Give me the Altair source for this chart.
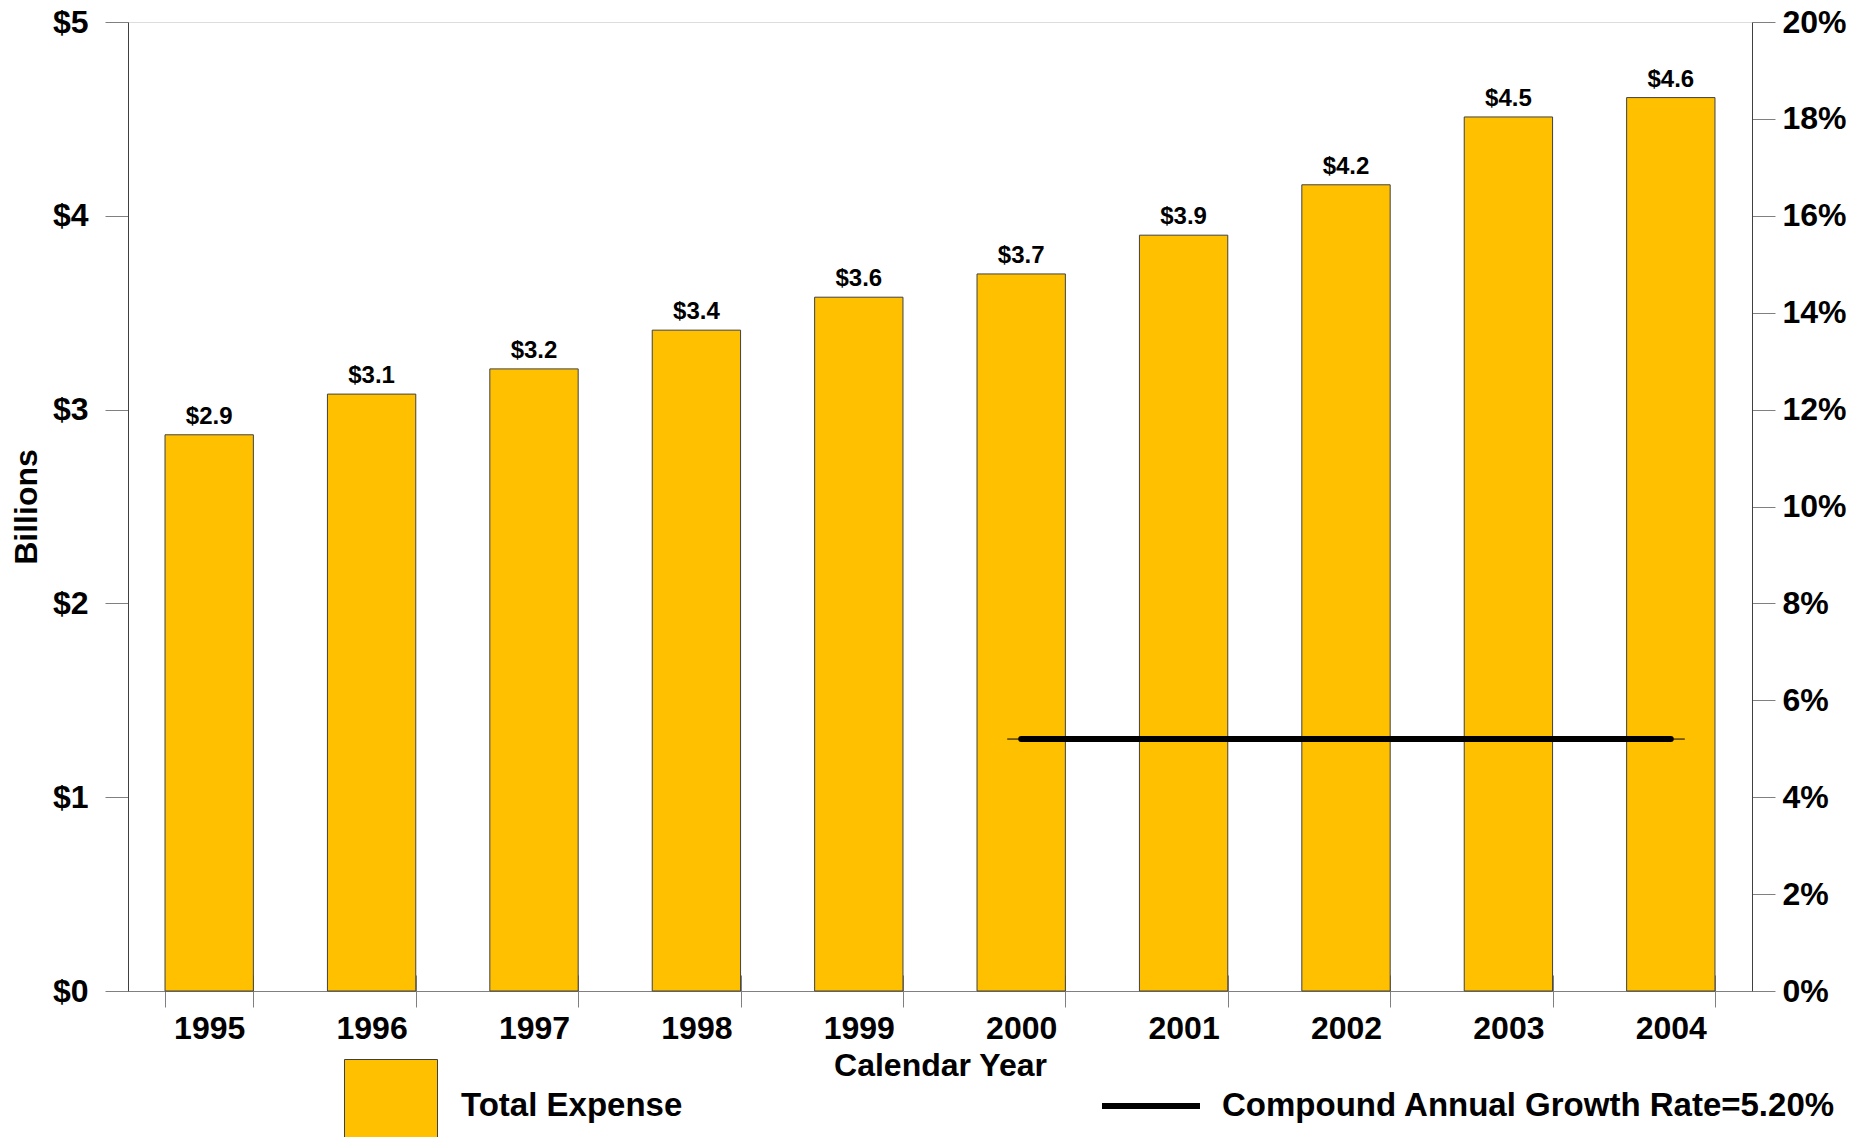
import altair as alt
import pandas as pd

# ---------------- data ----------------
years = ["1995", "1996", "1997", "1998", "1999", "2000", "2001", "2002", "2003", "2004"]
expense = [2.87, 3.08, 3.21, 3.41, 3.58, 3.70, 3.90, 4.16, 4.51, 4.61]
bar_labels = ["$2.9", "$3.1", "$3.2", "$3.4", "$3.6", "$3.7", "$3.9", "$4.2", "$4.5", "$4.6"]
cagr_years = ["2000", "2004"]
cagr_values = [5.2, 5.2]
expense_name = "Total Expense"
cagr_name = "Compound Annual Growth Rate=5.20%"
left_ticks = [0, 1, 2, 3, 4, 5]
right_ticks = [0, 2, 4, 6, 8, 10, 12, 14, 16, 18, 20]

FONT = "Liberation Sans"
GOLD = "#FFC000"

bars_df = pd.DataFrame({"year": years, "expense": expense, "label": bar_labels,
                        "series": [expense_name] * len(years)})
cagr_df = pd.DataFrame({"year": cagr_years, "rate": cagr_values, "cagr": [cagr_name] * len(cagr_years)})
ext_df = pd.DataFrame({"start": [cagr_years[0]], "end": [cagr_years[-1]], "rate": [cagr_values[0]]})

x_scale = alt.Scale(domain=years, paddingInner=0.456, paddingOuter=0.228)

x_main_axis = alt.Axis(
    title="Calendar Year", labelAngle=0, tickBand="extent", tickSize=16,
    tickColor="#808080", domainColor="#808080", labelPadding=6, titlePadding=6,
    labelFontSize=32, labelFontWeight="bold", titleFontSize=32, titleFontWeight="bold",
    grid=False,
)
x_inner_axis = alt.Axis(
    orient="bottom", offset=-16, labels=False, domain=False, tickSize=16,
    tickBand="extent", tickColor="#808080", title=None, grid=False,
)

bars = alt.Chart(bars_df).mark_bar(stroke="#404040", strokeWidth=1).encode(
    x=alt.X("year:N", scale=x_scale, axis=x_main_axis),
    y=alt.Y("expense:Q", scale=alt.Scale(domain=[0, 5]),
            axis=alt.Axis(values=left_ticks, labelExpr="'$' + datum.value", title="Billions",
                          tickSize=23, tickColor="#808080", domainColor="#404040",
                          labelPadding=17, titlePadding=9, grid=False,
                          labelFontSize=32, labelFontWeight="bold",
                          titleFontSize=32, titleFontWeight="bold")),
    fill=alt.Fill("series:N", scale=alt.Scale(domain=[expense_name], range=[GOLD]),
                  legend=alt.Legend(orient="none", legendX=216, legendY=1037, title=None,
                                    symbolType="square", symbolSize=8649,
                                    symbolStrokeColor="#404040", symbolStrokeWidth=1,
                                    labelFont=FONT, labelFontSize=33, labelFontWeight="bold",
                                    labelColor="black", labelOffset=23, padding=0, labelLimit=0)),
)

texts = alt.Chart(bars_df).mark_text(dy=-11, font=FONT, fontSize=24, fontWeight="bold",
                                     baseline="alphabetic", color="black").encode(
    x=alt.X("year:N", scale=x_scale, axis=x_main_axis),
    y=alt.Y("expense:Q"),
    text="label:N",
)

line = alt.Chart(cagr_df).mark_line(strokeWidth=6, strokeCap="round").encode(
    x=alt.X("year:N", scale=x_scale, axis=x_inner_axis),
    y=alt.Y("rate:Q", scale=alt.Scale(domain=[0, 20]),
            axis=alt.Axis(orient="right", values=right_ticks, labelExpr="datum.value + '%'",
                          title=None, tickSize=23, tickColor="#808080", domainColor="#404040",
                          labelPadding=7, grid=False, labelFontSize=32, labelFontWeight="bold")),
    stroke=alt.Stroke("cagr:N", scale=alt.Scale(domain=[cagr_name], range=["black"]),
                      legend=alt.Legend(orient="none", legendX=971, legendY=1032, title=None,
                                        symbolType="stroke", symbolSize=9604, symbolStrokeWidth=6,
                                        labelFont=FONT, labelFontSize=33, labelFontWeight="bold",
                                        labelColor="black", labelOffset=19, padding=0, labelLimit=0)),
)

ext = alt.Chart(ext_df).mark_rule(color="black", strokeWidth=1, xOffset=-14, x2Offset=14).encode(
    x=alt.X("start:N", scale=x_scale, axis=x_inner_axis),
    x2="end:N",
    y=alt.Y("rate:Q"),
)

left = alt.layer(bars, texts)
right = alt.layer(ext, line)

chart = alt.layer(left, right).resolve_scale(y="independent").resolve_axis(x="independent").properties(
    width=1624, height=969,
    autosize=alt.AutoSizeParams(type="none"),
    padding={"left": 120, "top": 14, "right": 114, "bottom": 146},
).configure_view(stroke="black", strokeWidth=1).configure_axis(
    labelFont=FONT, titleFont=FONT, labelColor="black", titleColor="black",
).configure(background="white")

chart.save("out.html", embed_options={"renderer": "svg", "actions": False})
